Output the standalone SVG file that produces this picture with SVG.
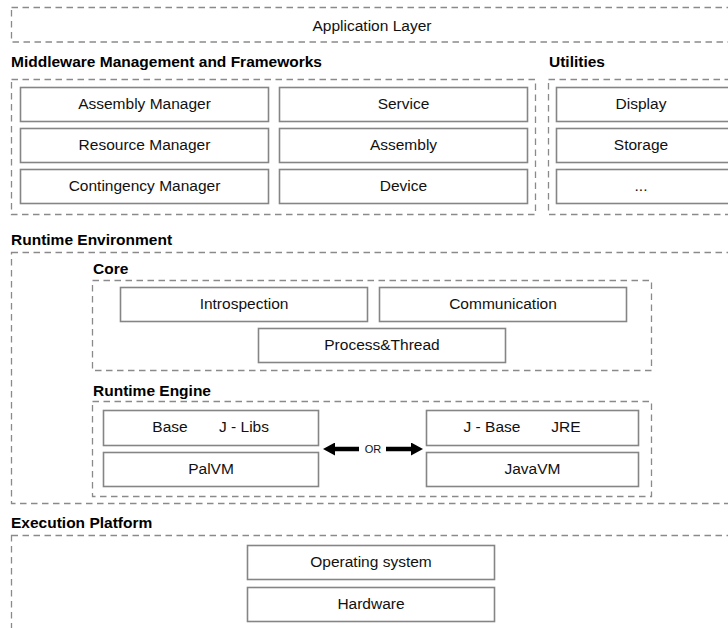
<svg xmlns="http://www.w3.org/2000/svg" width="728" height="628" viewBox="0 0 728 628">
<defs>
<style>
.dash{fill:none;stroke:#8a8a8a;stroke-width:1.3;stroke-dasharray:6.5,4.5}
.box{fill:#fff;stroke:#858585;stroke-width:1.6}
.t{font-family:"Liberation Sans",Arial,sans-serif;font-size:15.5px;fill:#111;text-anchor:middle}
.h{font-family:"Liberation Sans",Arial,sans-serif;font-size:15.5px;font-weight:bold;fill:#000}
.or{font-family:"Liberation Sans",Arial,sans-serif;font-size:11px;fill:#111;text-anchor:middle}
</style>
<marker id="ah" viewBox="0 0 12 13" refX="0" refY="6.5" markerWidth="12" markerHeight="13" markerUnits="userSpaceOnUse" orient="auto">
<path d="M0,0 L12,6.5 L0,13 Z" fill="#000"/>
</marker>
</defs>
<rect width="728" height="628" fill="#fff"/>

<g id="application-layer">
<rect class="dash" x="11.5" y="7.5" width="740" height="34.5"/>
<text class="t" x="372" y="30.5">Application Layer</text>
</g>

<g id="middleware">
<text class="h" x="11" y="67">Middleware Management and Frameworks</text>
<rect class="dash" x="11.5" y="79.5" width="524" height="135"/>
</g>
<g id="assembly-manager"><rect class="box" x="20.5" y="87.5" width="248" height="34"/><text class="t" x="144.5" y="109">Assembly Manager</text></g>
<g id="resource-manager"><rect class="box" x="20.5" y="128.5" width="248" height="34"/><text class="t" x="144.5" y="150">Resource Manager</text></g>
<g id="contingency-manager"><rect class="box" x="20.5" y="169.5" width="248" height="34"/><text class="t" x="144.5" y="191">Contingency Manager</text></g>
<g id="service"><rect class="box" x="279.5" y="87.5" width="248" height="34"/><text class="t" x="403.5" y="109">Service</text></g>
<g id="assembly"><rect class="box" x="279.5" y="128.5" width="248" height="34"/><text class="t" x="403.5" y="150">Assembly</text></g>
<g id="device"><rect class="box" x="279.5" y="169.5" width="248" height="34"/><text class="t" x="403.5" y="191">Device</text></g>

<g id="utilities">
<text class="h" x="549" y="67">Utilities</text>
<rect class="dash" x="548.5" y="79.5" width="200" height="135"/>
</g>
<g id="display"><rect class="box" x="556.5" y="87.5" width="200" height="34"/><text class="t" x="641" y="109">Display</text></g>
<g id="storage"><rect class="box" x="556.5" y="128.5" width="200" height="34"/><text class="t" x="641" y="150">Storage</text></g>
<g id="etc"><rect class="box" x="556.5" y="169.5" width="200" height="34"/><text class="t" x="641" y="191">...</text></g>

<g id="runtime-environment">
<text class="h" x="11" y="245">Runtime Environment</text>
<rect class="dash" x="11.5" y="252.5" width="740" height="251"/>
</g>

<g id="core">
<text class="h" x="93" y="274">Core</text>
<rect class="dash" x="92.5" y="280.5" width="559" height="90"/>
</g>
<g id="introspection"><rect class="box" x="120.5" y="287.5" width="247" height="34"/><text class="t" x="244" y="309">Introspection</text></g>
<g id="communication"><rect class="box" x="379.5" y="287.5" width="247" height="34"/><text class="t" x="503" y="309">Communication</text></g>
<g id="process-thread"><rect class="box" x="258.5" y="328.5" width="247" height="34"/><text class="t" x="382" y="350">Process&amp;Thread</text></g>

<g id="runtime-engine">
<text class="h" x="93" y="396">Runtime Engine</text>
<rect class="dash" x="92.5" y="401.5" width="559" height="95"/>
</g>
<g id="base-jlibs"><rect class="box" x="103.5" y="410.5" width="215" height="35"/><text class="t" x="170" y="432">Base</text><text class="t" x="244" y="432">J - Libs</text></g>
<g id="palvm"><rect class="box" x="103.5" y="452.5" width="215" height="34"/><text class="t" x="211" y="474">PalVM</text></g>
<g id="jbase-jre"><rect class="box" x="426.5" y="410.5" width="212" height="35"/><text class="t" x="492" y="432">J - Base</text><text class="t" x="566" y="432">JRE</text></g>
<g id="javavm"><rect class="box" x="426.5" y="452.5" width="212" height="34"/><text class="t" x="532.5" y="474">JavaVM</text></g>

<g id="connectors">
<line x1="359" y1="449" x2="335" y2="449" stroke="#000" stroke-width="4.5" marker-end="url(#ah)"/>
<line x1="386" y1="449" x2="411" y2="449" stroke="#000" stroke-width="4.5" marker-end="url(#ah)"/>
<text class="or" x="373" y="453">OR</text>
</g>

<g id="execution-platform">
<text class="h" x="11" y="528">Execution Platform</text>
<rect class="dash" x="11.5" y="535.5" width="740" height="110"/>
</g>
<g id="operating-system"><rect class="box" x="247.5" y="545.5" width="247" height="34"/><text class="t" x="371" y="567">Operating system</text></g>
<g id="hardware"><rect class="box" x="247.5" y="587.5" width="247" height="34"/><text class="t" x="371" y="609">Hardware</text></g>
</svg>
